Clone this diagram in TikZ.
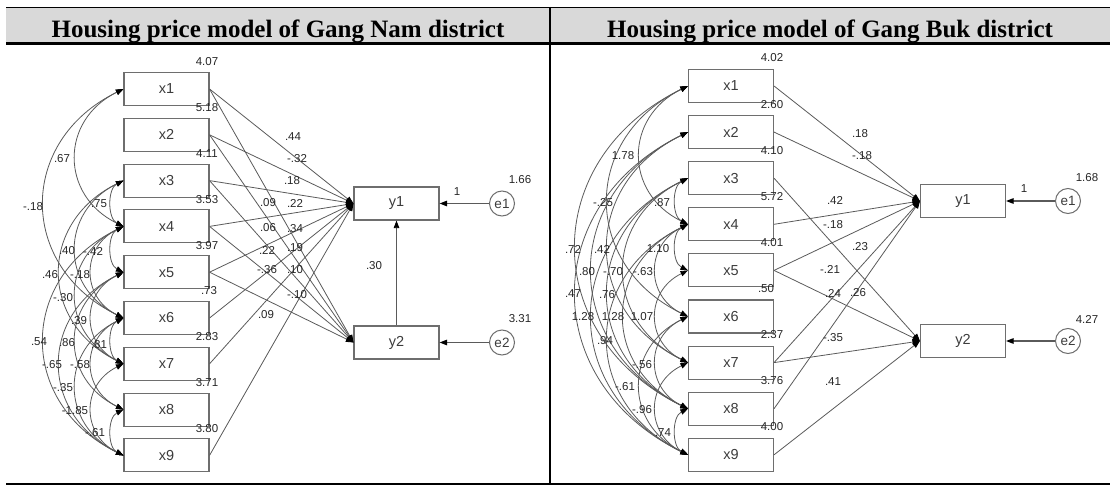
\documentclass[tikz,border=0pt]{standalone}
\usepackage{fontspec}
\setmainfont{Liberation Sans}
\newfontfamily\headfont{Liberation Serif}
\usetikzlibrary{arrows.meta}
\definecolor{boxgray}{HTML}{6E6E6E}
\definecolor{linegray}{HTML}{5A5A5A}
\definecolor{labgray}{HTML}{3C3C3C}
\definecolor{headgray}{HTML}{D9D9D9}
\begin{document}
\begin{tikzpicture}[x=1pt,y=-1pt,
  box/.style={draw=boxgray, line width=1.1pt, minimum width=85pt, minimum height=33pt, inner sep=0pt, font=\fontsize{14.5}{14.5}\selectfont, text=labgray},
  err/.style={circle, draw=boxgray, line width=1pt, minimum size=25pt, inner sep=0pt, font=\fontsize{13.5}{13.5}\selectfont, text=labgray},
  num/.style={font=\fontsize{11.5}{12}\selectfont, inner sep=0pt, text=black!85},
  head/.style={font=\headfont\bfseries\fontsize{25}{25}\selectfont, inner sep=0pt, anchor=base},
  reg/.style={draw=linegray, line width=0.8pt, -{Triangle[length=7.5pt,width=5.5pt,color=black]}},
  cov/.style={draw=linegray, line width=0.8pt, {Triangle[length=7.5pt,width=5.5pt,color=black]}-{Triangle[length=7.5pt,width=5.5pt,color=black]}, bend right=64, looseness=1.32},
  covs/.style={cov, looseness=1.0},
]
\useasboundingbox (0,0) rectangle (1114,487);
% table frame
\fill[headgray] (6,8) rectangle (1110,42);
\draw[line width=1.2pt] (6,7.5) -- (1110,7.5);
\draw[line width=3pt] (6,44) -- (1110,44);
\draw[line width=1.2pt] (6,484) -- (1110,484);
\draw[line width=2pt] (550,7) -- (550,485);
\node[head] (TL) at (278,37.5) {Housing price model of Gang Nam district};
\node[head] (TR) at (830,37.5) {Housing price model of Gang Buk district};

% boxes
\foreach \i in {1,...,9} {
  \node[box] (L\i) at (166.5, {89+45.8*(\i-1)}) {x\i};
  \node[box] (R\i) at (731, {86+46.1*(\i-1)}) {x\i};
}
\node[box] (Ly1) at (396.5,203.5) {y1};
\node[box] (Ly2) at (396.5,342.5) {y2};
\node[err] (Le1) at (502,203.5) {e1};
\node[err] (Le2) at (502,342.5) {e2};
\node[box] (Ry1) at (963,201) {y1};
\node[box] (Ry2) at (963,341) {y2};
\node[err] (Re1) at (1068,201) {e1};
\node[err] (Re2) at (1068,341) {e2};

% variances
\foreach \i/\v/\xx in {1/4.07/207,2/5.18/207,3/4.11/207,4/3.53/207,5/3.97/207,6/.73/209,7/2.83/207,8/3.71/207,9/3.80/207}
  \node[num] (vL\i) at (\xx,{89+45.8*(\i-1)-27}) {\v};
\foreach \i/\v/\xx in {1/4.02/772,2/2.60/772,3/4.10/772,4/5.72/772,5/4.01/772,6/.50/766,7/2.37/772,8/3.76/772,9/4.00/772}
  \node[num] (vR\i) at (\xx,{86+46.1*(\i-1)-28}) {\v};
\node[num] (vLe1) at (520,180) {1.66};
\node[num] (vLe2) at (520,319) {3.31};
\node[num] (vRe1) at (1087,178) {1.68};
\node[num] (vRe2) at (1087,319) {4.27};

% regressions left
\foreach \i in {1,2,3,4,5,6,7,9} \draw[reg] (L\i.east) -- (Ly1.west);
\foreach \i in {1,2,3,4,5} \draw[reg] (L\i.east) -- (Ly2.west);
\draw[reg] (Ly2.north) -- (Ly1.south);
\draw[reg, line width=1.1pt] (Le1.west) -- (Ly1.east);
\draw[reg, line width=1.1pt] (Le2.west) -- (Ly2.east);
% regressions right
\foreach \i in {1,2,4,5,7,8} \draw[reg] (R\i.east) -- (Ry1.west);
\foreach \i in {3,5,7,9} \draw[reg] (R\i.east) -- (Ry2.west);
\draw[reg, line width=1.1pt] (Re1.west) -- (Ry1.east);
\draw[reg, line width=1.1pt] (Re2.west) -- (Ry2.east);

% covariances
\foreach \a/\b in {1/4,1/6,3/6,3/7,4/6,4/7,5/7,5/8,4/9,6/8,5/9,6/9,7/9}
  \draw[cov] (L\a.west) to (L\b.west);
\foreach \a/\b in {3/4,4/5,6/7,8/9}
  \draw[covs] (L\a.west) to (L\b.west);
\foreach \a/\b in {1/4,1/6,1/8,2/7,2/8,3/7,4/6,2/9,3/8,3/9,4/8,5/7,4/9,6/8,6/9,7/9}
  \draw[cov] (R\a.west) to (R\b.west);
\foreach \a/\b in {3/4,4/5,8/9}
  \draw[covs] (R\a.west) to (R\b.west);

% path labels left
\foreach \x/\y/\t [count=\n] in {293/137/.44, 297/159/-.32, 292/181/.18, 268/203/.09, 295/203/.22, 268/228/.06, 295/229/.34, 267/250/.22, 295/248/.19, 267/270/-.36, 295/270/.10, 297/295/-.10, 266/315/.09, 374/266/.30, 457/192/1, 1024/189/1}
  \node[num] (pL\n) at (\x,\y) {\t};
% path labels right
\foreach \x/\y/\t [count=\n] in {860/134/.18, 862/156/-.18, 835/200/.42, 833/225/-.18, 860/247/.23, 830/269/-.21, 833/293/.24, 858/293/.26, 833/338/-.35, 833/382/.41}
  \node[num] (pR\n) at (\x,\y) {\t};
% covariance labels left
\foreach \x/\y/\t [count=\n] in {62/159/.67, 33/207/-.18, 99/204/.75, 67/251/.40, 93/251/-.42, 50/275/.46, 80/275/-.18, 63/298/-.30, 79/321/.39, 39/342/.54, 67/343/.86, 99/345/.81, 52/365/-.65, 80/365/-.58, 63/388/-.35, 75/411/-1.85, 95/433/-.61}
  \node[num] (cL\n) at (\x,\y) {\t};
% covariance labels right
\foreach \x/\y/\t [count=\n] in {623/156/1.78, 603/203/-.25, 662/203/.87, 573/249/.72, 602/249/.42, 658/249/1.10, 587/272/.80, 613/272/-.70, 643/272/-.63, 573/294/.47, 607/295/.76, 583/317/1.28, 613/317/1.28, 642/317/1.07, 605/341/.94, 642/365/-.56, 625/387/-.61, 642/410/-.96, 663/433/.74}
  \node[num] (cR\n) at (\x,\y) {\t};
\end{tikzpicture}
\end{document}
